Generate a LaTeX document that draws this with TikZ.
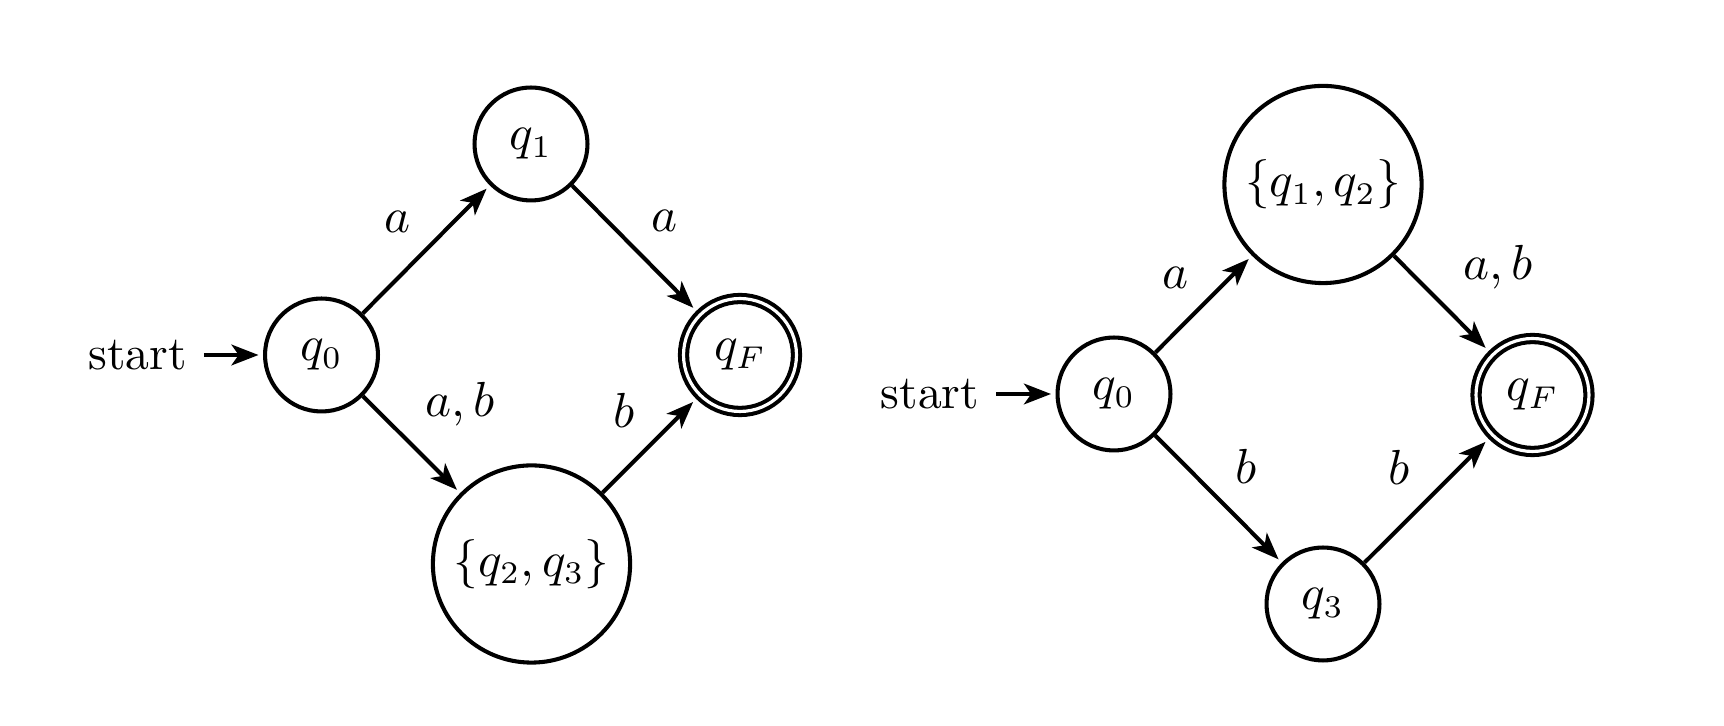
\documentclass[tikz,border=0pt]{standalone}
\usetikzlibrary{arrows.meta}
\begin{document}
\begin{tikzpicture}[x=0.2222pt,y=-0.2222pt,line width=0.9pt,
  every node/.style={font=\fontsize{10.6pt}{12.7pt}\selectfont},
  >={Stealth[length=6pt,width=4.6pt,inset=1.6pt]},
  st/.style={draw,circle,minimum size=25.1pt,inner sep=3pt},
  acc/.style={st,double,double distance=0.7pt,outer sep=1.2pt},
  tr/.style={->,shorten >=1pt},
  lbl/.style={inner sep=0pt}]
\useasboundingbox (0,0) rectangle (1724,726);
% left automaton
\node[st] (a0) at (321.5,355) {$q_0$};
\node[st] (a1) at (531,144) {$q_1$};
\node[st] (a23) at (531.5,564) {$\{q_2,q_3\}$};
\node[acc] (aF) at (740,355) {$q_F$};
\node (as) at (137.5,355) {start};
\draw[tr] (as) -- (a0);
\draw[tr] (a0) -- node[lbl,shift={(-29,-27.5)}] {$a$} (a1);
\draw[tr] (a1) -- node[lbl,shift={(30,-27.5)}] {$a$} (aF);
\draw[tr] (a0) -- node[lbl,shift={(48.5,-40.5)}] {$a,b$} (a23);
\draw[tr] (a23) -- node[lbl,shift={(-25,-35)}] {$b$} (aF);
% right automaton
\node[st] (b0) at (1114,394) {$q_0$};
\node[st] (b12) at (1323,184.5) {$\{q_1,q_2\}$};
\node[st] (b3) at (1323,604) {$q_3$};
\node[acc] (bF) at (1532.5,395) {$q_F$};
\node (bs) at (930,394) {start};
\draw[tr] (bs) -- (b0);
\draw[tr] (b0) -- node[lbl,shift={(-28.5,-26)}] {$a$} (b12);
\draw[tr] (b12) -- node[lbl,shift={(57,-36)}] {$a,b$} (bF);
\draw[tr] (b0) -- node[lbl,shift={(28,-33)}] {$b$} (b3);
\draw[tr] (b3) -- node[lbl,shift={(-27,-33)}] {$b$} (bF);
\end{tikzpicture}
\end{document}
